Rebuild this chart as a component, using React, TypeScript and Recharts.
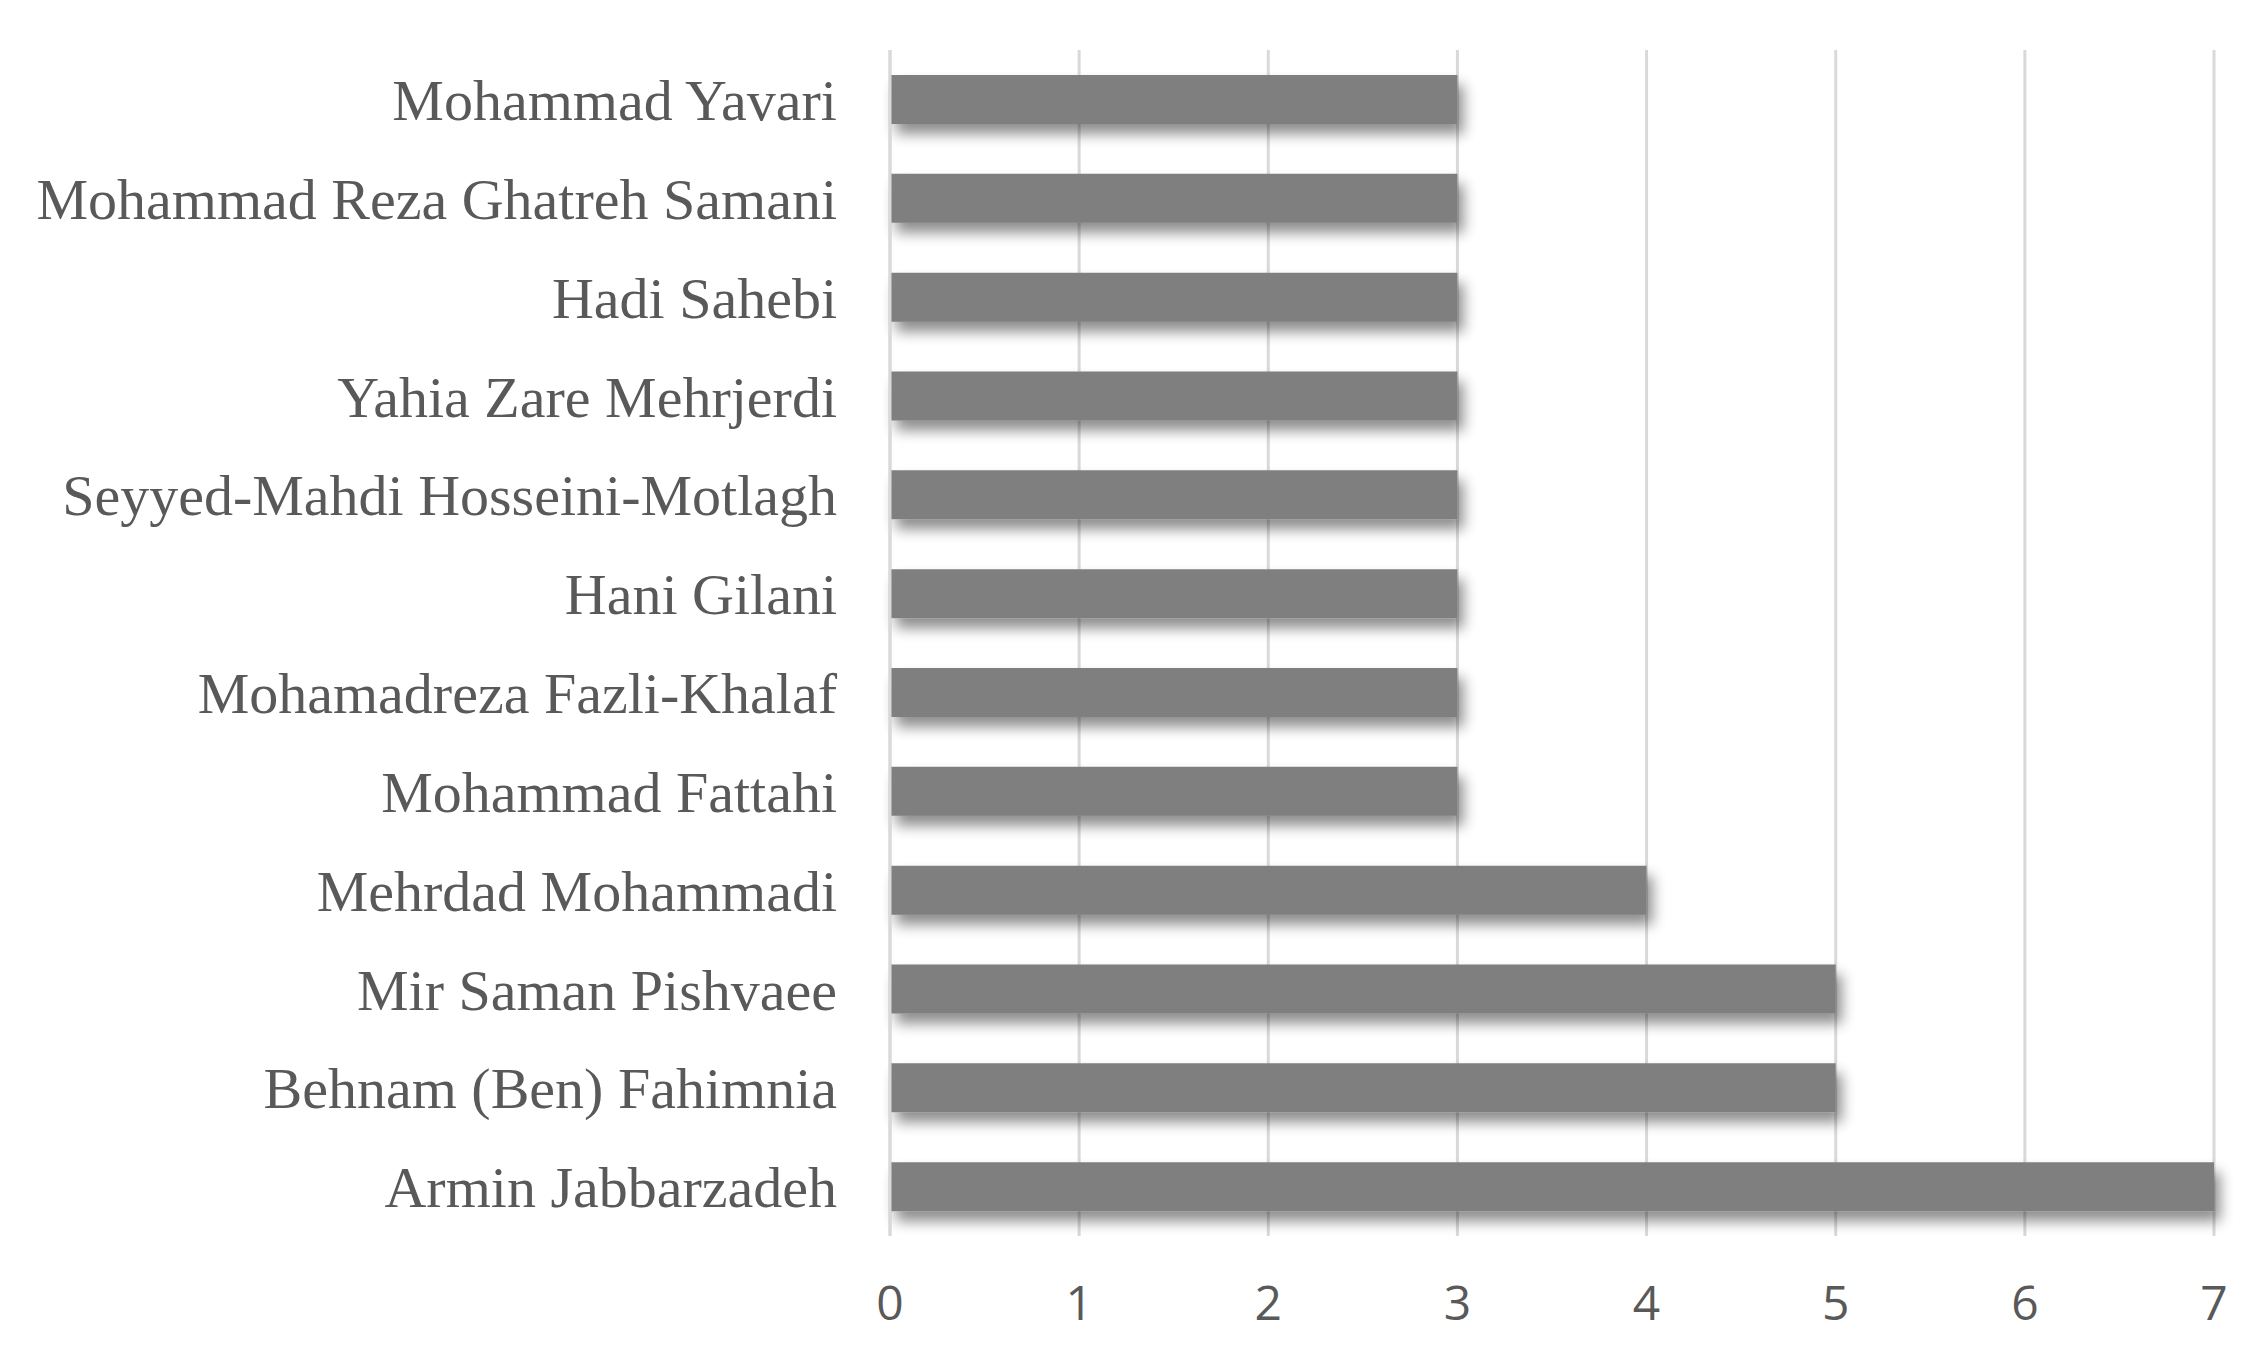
import React from "react";
import { BarChart, Bar, XAxis, YAxis, CartesianGrid } from "recharts";

const authors = [
  "Mohammad Yavari",
  "Mohammad Reza Ghatreh Samani",
  "Hadi Sahebi",
  "Yahia Zare Mehrjerdi",
  "Seyyed-Mahdi Hosseini-Motlagh",
  "Hani Gilani",
  "Mohamadreza Fazli-Khalaf",
  "Mohammad Fattahi",
  "Mehrdad Mohammadi",
  "Mir Saman Pishvaee",
  "Behnam (Ben) Fahimnia",
  "Armin Jabbarzadeh",
];
const counts = [3, 3, 3, 3, 3, 3, 3, 3, 4, 5, 5, 7];
const xTicks = [0, 1, 2, 3, 4, 5, 6, 7];

const data = authors.map((name, i) => ({ name, count: counts[i] }));

export default function App() {
  return (
    <div style={{ margin: -8, width: 2262, height: 1356, background: "#fff" }}>
      <BarChart
        width={2262}
        height={1356}
        data={data}
        layout="vertical"
        margin={{ top: 50, right: 48, bottom: 0, left: 0 }}
      >
        <defs>
          <filter id="barShadow" x="-5%" y="-50%" width="115%" height="220%">
            <feGaussianBlur in="SourceAlpha" stdDeviation="7" />
            <feOffset dx="6" dy="10" result="off" />
            <feComponentTransfer>
              <feFuncA type="linear" slope="0.45" />
            </feComponentTransfer>
            <feMerge>
              <feMergeNode />
              <feMergeNode in="SourceGraphic" />
            </feMerge>
          </filter>
        </defs>
        <CartesianGrid horizontal={false} stroke="#d9d9d9" strokeWidth={3} />
        <XAxis
          type="number"
          domain={[0, 7]}
          ticks={xTicks}
          axisLine={false}
          tickLine={false}
          tickSize={0}
          tickMargin={50}
          height={120}
          tick={{ fill: "#595959", fontSize: 48, fontFamily: "Open Sans" }}
        />
        <YAxis
          type="category"
          dataKey="name"
          width={890}
          axisLine={{ stroke: "#d9d9d9", strokeWidth: 3 }}
          tickLine={false}
          tickSize={0}
          tickMargin={53}
          interval={0}
          tick={{ fill: "#595959", fontSize: 58, fontFamily: "Liberation Serif" }}
        />
        <Bar
          dataKey="count"
          fill="#7f7f7f"
          barSize={49}
          filter="url(#barShadow)"
          isAnimationActive={false}
        />
      </BarChart>
    </div>
  );
}
